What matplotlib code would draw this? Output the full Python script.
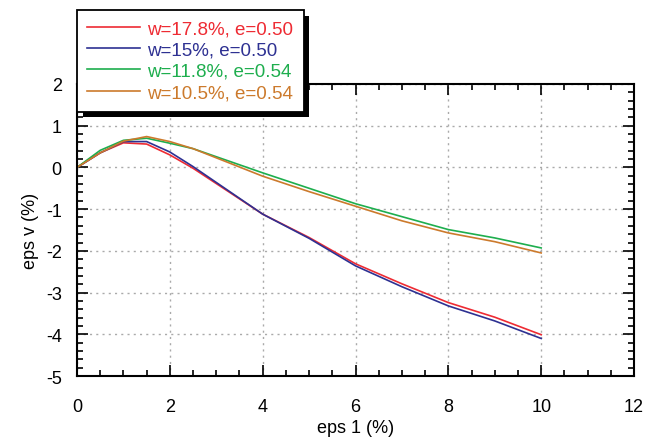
import matplotlib.pyplot as plt
from matplotlib.ticker import MultipleLocator
import matplotlib.patheffects as pe

plt.rcParams['font.family'] = ['Liberation Sans', 'DejaVu Sans']
plt.rcParams['axes.unicode_minus'] = False

# axial strain (%) and volumetric strain (%) for each test
eps1 = [0, 0.5, 1, 1.5, 2, 2.5, 4, 5, 6, 7, 8, 9, 10]
ev_178 = [0, 0.35, 0.59, 0.56, 0.30, -0.02, -1.12, -1.68, -2.31, -2.79, -3.24, -3.59, -4.01]
ev_150 = [0, 0.35, 0.62, 0.62, 0.37, 0.02, -1.12, -1.70, -2.36, -2.86, -3.32, -3.68, -4.10]
ev_118 = [0, 0.41, 0.65, 0.70, 0.58, 0.45, -0.13, -0.50, -0.87, -1.18, -1.49, -1.69, -1.93]
ev_105 = [0, 0.35, 0.63, 0.74, 0.62, 0.45, -0.21, -0.58, -0.93, -1.28, -1.57, -1.78, -2.05]

labels = ["w=17.8%, e=0.50", "w=15%, e=0.50", "w=11.8%, e=0.54", "w=10.5%, e=0.54"]
colors = ["#ee2b33", "#2e3192", "#1eae4e", "#cc7a2c"]

fig = plt.figure(figsize=(6.45, 4.39), dpi=100)
ax = fig.add_axes([0.1194, 0.1412, 0.8636, 0.6652])

for ys, lab, c in zip([ev_178, ev_150, ev_118, ev_105], labels, colors):
    ax.plot(eps1, ys, color=c, lw=1.2, label=lab)

ax.set_xlim(0, 12)
ax.set_ylim(-5, 2)
ax.xaxis.set_major_locator(MultipleLocator(2))
ax.xaxis.set_minor_locator(MultipleLocator(0.5))
ax.yaxis.set_major_locator(MultipleLocator(1))
ax.yaxis.set_minor_locator(MultipleLocator(0.2))
ax.tick_params(which='both', direction='in', top=True, right=True, labelsize=13, width=1.2)
ax.tick_params(which='major', length=8)
ax.tick_params(which='minor', length=4)
ax.tick_params(axis='x', which='major', pad=16)
ax.tick_params(axis='y', which='major', pad=11)
ax.grid(True, which='major', color='#aaaaaa', ls=(0, (1.5, 3)), lw=1)
for s in ax.spines.values():
    s.set_linewidth(1.5)

ax.set_xlabel("eps 1 (%)", fontsize=13, labelpad=3)
ax.set_ylabel("eps v (%)", fontsize=13, labelpad=5)

# legend box sits above the plot area, overlapping its top-left corner
leg = ax.legend(loc='upper left', bbox_to_anchor=(77 / 645, 1 - 11 / 439),
                bbox_transform=fig.transFigure, fontsize=13.5,
                frameon=True, fancybox=False, shadow=False, handlelength=2.8,
                handletextpad=0.4, labelspacing=0.22, borderpad=0.55,
                borderaxespad=0)
frame = leg.get_frame()
frame.set_edgecolor('black')
frame.set_linewidth(1.3)
frame.set_alpha(1)
frame.set_path_effects([pe.SimplePatchShadow(offset=(4, -4), shadow_rgbFace='black', alpha=1), pe.Normal()])
for txt, c in zip(leg.get_texts(), colors):
    txt.set_color(c)
leg.set_zorder(10)

fig.savefig("out.png", dpi=100)
